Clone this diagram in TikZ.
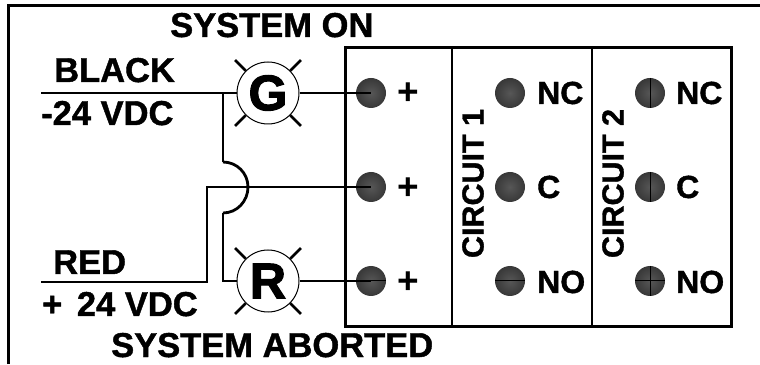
\documentclass[tikz,border=0pt]{standalone}
\usepackage{fontspec}
\setmainfont{Liberation Sans}
\newfontfamily\heavyfont{Liberation Sans Bold}[FakeBold=1.2]
\newfontfamily\lampbold{Liberation Sans Bold}[FakeBold=2.2]
\newcommand{\lbl}{\fontsize{34.5pt}{34.5pt}\selectfont\heavyfont}
\newcommand{\smalllbl}{\fontsize{32pt}{32pt}\selectfont\heavyfont}
\newcommand{\sidelbl}{\fontsize{30.5pt}{30.5pt}\selectfont\heavyfont}
\newcommand{\pluslbl}{\fontsize{37pt}{37pt}\selectfont\bfseries}
\newcommand{\lampfont}{\fontsize{50pt}{50pt}\selectfont\lampbold}
\tikzset{
    wire/.style={line width=2.8pt, black},
    frameline/.style={line width=3pt, black},
    lamp/.style={circle, draw, fill=white, line width=1pt, minimum size=62pt, inner sep=0pt, font=\lampfont},
    ray/.style={line width=2.6pt, black},
    term/.style={circle, inner color=black!66, outer color=black!78, minimum size=30pt, inner sep=0pt},
    tag/.style={anchor=base west, inner sep=0pt, font=\lbl},
    smalltag/.style={anchor=base west, inner sep=0pt, font=\smalllbl},
    plustag/.style={inner sep=0pt, font=\pluslbl},
    sidetag/.style={rotate=90, anchor=south, inner sep=0pt, font=\sidelbl},
    hair/.style={line width=1pt, black}
}
\begin{document}
\begin{tikzpicture}[x=1pt, y=1pt]
        \useasboundingbox (0, 0) rectangle (760, 364);
        \coordinate (fbottom) at (8, 0);
        \coordinate (fcorner) at (8, 358);
        \coordinate (fright) at (760, 358);
        \draw[frameline] (fbottom) -- (fcorner) -- (fright);
        \node[draw, frameline, inner sep=0pt, minimum width=386pt, minimum height=279pt] (box) at (538, 176.5) {};
        \coordinate (d1t) at (452, 316);
        \coordinate (d1b) at (452, 37);
        \coordinate (d2t) at (592, 316);
        \coordinate (d2b) at (592, 37);
        \draw[frameline, line width=2.4pt] (d1t) -- (d1b);
        \draw[frameline, line width=2.4pt] (d2t) -- (d2b);

        \node[term] (p1) at (371, 271) {};
        \node[term] (p2) at (371, 177) {};
        \node[term] (p3) at (371, 83) {};
        \node[term] (nc1) at (510, 271) {};
        \node[term] (c1) at (510, 177) {};
        \node[term] (no1) at (510, 83) {};
        \node[term] (nc2) at (650, 271) {};
        \node[term] (c2) at (650, 177) {};
        \node[term] (no2) at (650, 83) {};
        \draw[hair] (no1.west) -- (no1.east);
        \draw[hair] (nc2.north) -- (nc2.south);
        \draw[hair] (c2.north) -- (c2.south);
        \draw[hair] (no2.north) -- (no2.south);
        \draw[hair] (no2.west) -- (no2.east);
        \draw[hair] (p3.center) -- (p3.east);

        \node[lamp] (G) at (268, 271) {G};
        \node[lamp] (R) at (268, 83) {R};
        \foreach \a in {45, 135, 225, 315} {
            \draw[ray] (G.\a) -- ++(\a:15);
            \draw[ray] (R.\a) -- ++(\a:15);
        }

        \coordinate (blackend) at (41, 271);
        \coordinate (redend) at (41, 82);
        \coordinate (branch) at (223, 271);
        \coordinate (hoptop) at (223, 202);
        \coordinate (hopmid) at (248, 177);
        \coordinate (hopbot) at (223, 151);
        \coordinate (lampin) at (223, 83);
        \coordinate (redup) at (207, 82);
        \coordinate (redtop) at (207, 177);
        \draw[wire] (blackend) -- (G);
        \draw[wire] (G) -- (p1.center);
        \draw[wire] (branch) -- (hoptop);
        \draw[wire] (hoptop) to[out=0, in=90] (hopmid);
        \draw[wire] (hopmid) to[out=-90, in=0] (hopbot);
        \draw[wire] (hopbot) -- (lampin) -- (R);
        \draw[wire] (R) -- (p3.center);
        \draw[wire] (redend) -- (redup) -- (redtop) -- (p2.center);

        \node[tag] (on) at (170, 327) {SYSTEM ON};
        \node[tag] (black) at (54, 282) {BLACK};
        \node[tag] (neg) at (41, 239) {-24 VDC};
        \node[tag] (red) at (53, 90) {RED};
        \node[tag] (pos) at (42, 48) {+\hspace{5pt} 24 VDC};
        \node[tag] (abort) at (111, 7) {SYSTEM ABORTED};
        \node[plustag] (plus1) at (408, 270) {+};
        \node[plustag] (plus2) at (408, 175) {+};
        \node[plustag] (plus3) at (408, 81) {+};
        \node[smalltag] (ncl1) at (537, 260) {NC};
        \node[smalltag] (cl1) at (537, 166) {C};
        \node[smalltag] (nol1) at (537, 71) {NO};
        \node[smalltag] (ncl2) at (676, 260) {NC};
        \node[smalltag] (cl2) at (676, 166) {C};
        \node[smalltag] (nol2) at (676, 71) {NO};
        \node[sidetag] (cir1) at (484, 180.5) {CIRCUIT 1};
        \node[sidetag] (cir2) at (624, 180.5) {CIRCUIT 2};
\end{tikzpicture}
\end{document}
